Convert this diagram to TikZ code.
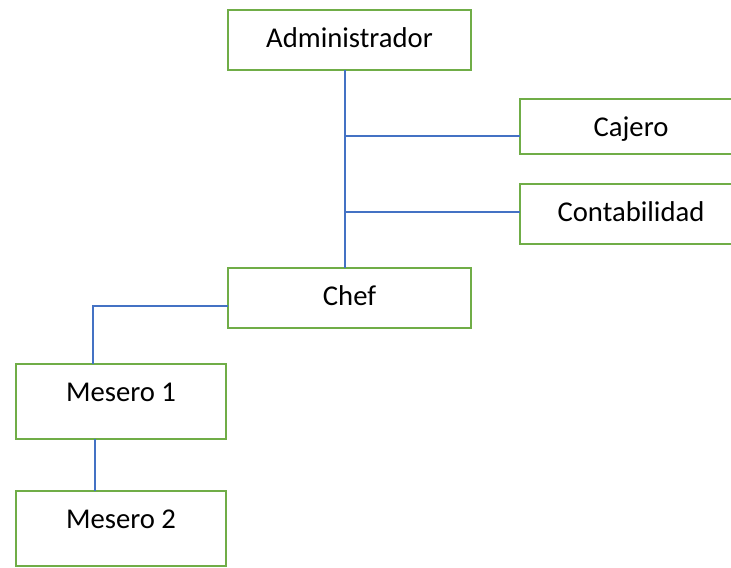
\documentclass[tikz,border=0pt]{standalone}
\usepackage{fontspec}
\setmainfont{Carlito}
\definecolor{boxgreen}{HTML}{70AD47}
\definecolor{lineblue}{HTML}{4472C4}
\tikzset{
  orgbox/.style={draw=boxgreen, line width=1.6pt, fill=white, inner sep=0pt, outer sep=0pt,
    anchor=north west, font=\fontsize{21.5pt}{24pt}\selectfont, text height=28.1pt, align=center},
  conn/.style={draw=lineblue, line width=0.8pt}
}
\begin{document}
\begin{tikzpicture}[x=0.75pt,y=-0.75pt]
\useasboundingbox (0,0) rectangle (731,567);
\clip (0,0) rectangle (731,567);
\fill[white] (0,0) rectangle (731,567);
\node[orgbox, minimum width=182.25pt, text depth=16.9pt] (admin) at (228,10) {Administrador};
\node[orgbox, minimum width=166.5pt, text depth=13.2pt] (cajero) at (520,99) {Cajero};
\node[orgbox, minimum width=166.5pt, text depth=16.9pt] (conta) at (520,184) {Contabilidad};
\node[orgbox, minimum width=182.25pt, text depth=16.9pt] (chef) at (228,268) {Chef};
\node[orgbox, minimum width=157.5pt, text depth=28.1pt] (m1) at (16,364) {Mesero 1};
\node[orgbox, minimum width=157.5pt, text depth=28.1pt] (m2) at (16,491) {Mesero 2};
\coordinate (t1) at (345,0);
\coordinate (yc) at (0,136);
\coordinate (yk) at (0,212);
\coordinate (ych) at (0,306);
\coordinate (xm1) at (93,0);
\coordinate (xm2) at (95,0);
\draw[conn] (admin.south -| t1) -- (chef.north -| t1);
\draw[conn] (t1 |- yc) -- (cajero.west |- yc);
\draw[conn] (t1 |- yk) -- (conta.west |- yk);
\draw[conn] (chef.west |- ych) -| (m1.north -| xm1);
\draw[conn] (m1.south -| xm2) -- (m2.north -| xm2);
\end{tikzpicture}
\end{document}
